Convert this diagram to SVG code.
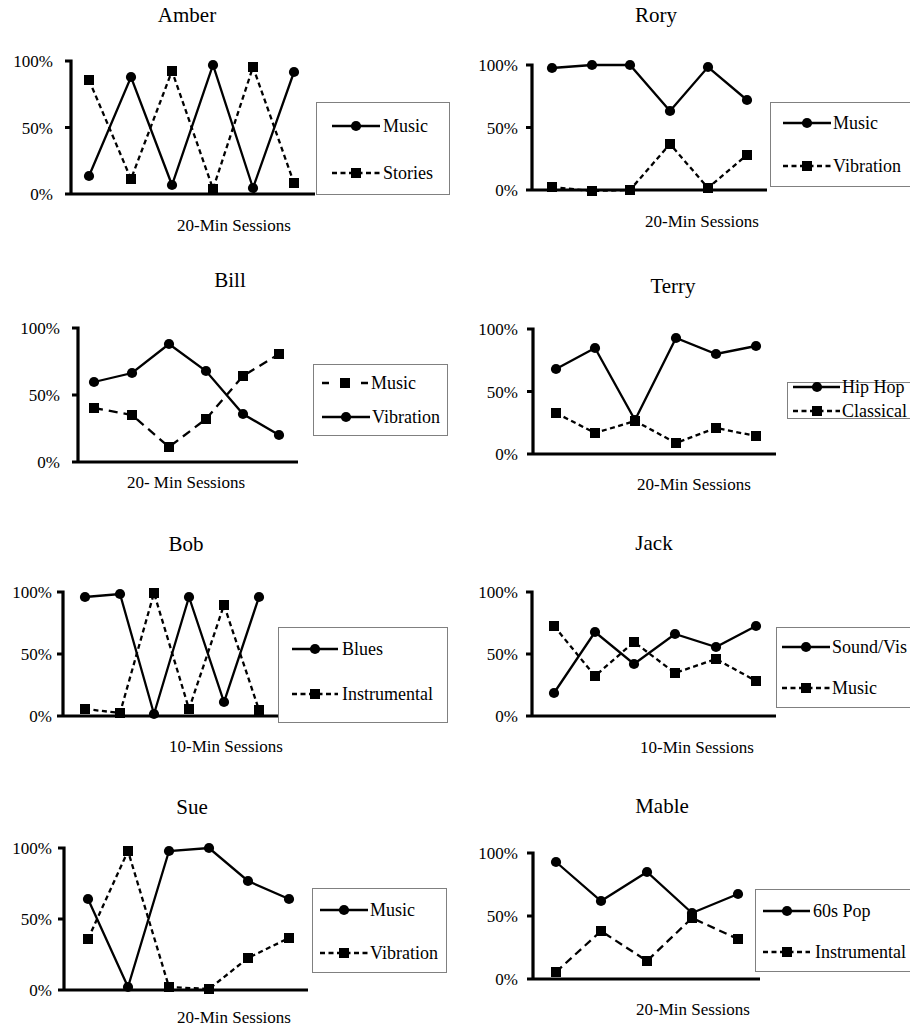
<svg xmlns="http://www.w3.org/2000/svg" width="910" height="1032" viewBox="0 0 910 1032">
<style>
text{font-family:"Liberation Serif","Times New Roman","DejaVu Serif",serif;fill:#000}
.t{font-size:21px;text-anchor:middle}
.y{font-size:17px;text-anchor:end}
.x{font-size:17px;text-anchor:middle}
.l{font-size:18px}
.ax{stroke:#000;stroke-width:3.2;fill:none}
.s{stroke:#000;stroke-width:2.3;fill:none}
.d{stroke-dasharray:5,3.5}
.dl{stroke-dasharray:9,6}
.dm{stroke-dasharray:8,5}
.bm{stroke-dasharray:7,32}
.c{marker-start:url(#c);marker-mid:url(#c);marker-end:url(#c)}
.q{marker-start:url(#q);marker-mid:url(#q);marker-end:url(#q)}
.lc{marker-mid:url(#c)}
.lq{marker-mid:url(#q)}
.lg{fill:#fff;stroke:#808080;stroke-width:1}
</style>
<defs>
<marker id="c" markerUnits="userSpaceOnUse" markerWidth="12" markerHeight="12" refX="6" refY="6" overflow="visible"><circle cx="6" cy="6" r="5.1" fill="#000"/></marker>
<marker id="q" markerUnits="userSpaceOnUse" markerWidth="12" markerHeight="12" refX="6" refY="6" overflow="visible"><rect x="1" y="1" width="10" height="10" fill="#000"/></marker>
</defs>
<rect width="910" height="1032" fill="#fff"/>

<g id="amber">
<text class="t" x="187" y="22">Amber</text>
<path class="ax" d="M65,61H71V194M65,127.5H71M65,194H315"/>
<text class="y" x="53" y="67">100%</text><text class="y" x="53" y="134">50%</text><text class="y" x="53" y="200">0%</text>
<text class="x" x="234" y="231">20-Min Sessions</text>
<g class="series">
<polyline class="s c" points="89,176 131,77 172,185 213,65 253,188 294,72"/>
<polyline class="s d q" points="89,80 131,179 172,71 213,189 253,67 294,183"/>
</g>
<g class="legend">
<rect class="lg" x="316.5" y="102.5" width="133" height="92"/>
<polyline class="s lc" points="332,126 356,126 380,126"/><text class="l" x="383" y="132">Music</text>
<polyline class="s d lq" points="332,173 356,173 380,173"/><text class="l" x="383" y="179">Stories</text>
</g>
</g>

<g id="rory">
<text class="t" x="656" y="22">Rory</text>
<path class="ax" d="M526,65H532V190M526,127.5H532M526,190H767"/>
<text class="y" x="518" y="71">100%</text><text class="y" x="518" y="134">50%</text><text class="y" x="518" y="196">0%</text>
<text class="x" x="702" y="227">20-Min Sessions</text>
<g class="series">
<polyline class="s c" points="552,68 592,65 630,65 670,111 708,67 747,100"/>
<polyline class="s d q" points="552,187 592,191 630,190 670,144 708,188 747,155"/>
</g>
<g class="legend">
<rect class="lg" x="770.5" y="102.5" width="145" height="84"/>
<polyline class="s lc" points="783,123 807,123 831,123"/><text class="l" x="833" y="129">Music</text>
<polyline class="s d lq" points="783,166 807,166 831,166"/><text class="l" x="833" y="172">Vibration</text>
</g>
</g>

<g id="bill">
<text class="t" x="230" y="287">Bill</text>
<path class="ax" d="M72,328H78V462M72,395H78M72,462H298"/>
<text class="y" x="60" y="334">100%</text><text class="y" x="60" y="401">50%</text><text class="y" x="60" y="468">0%</text>
<text class="x" x="186" y="488">20- Min Sessions</text>
<g class="series">
<polyline class="s dl q" points="94,408 132,415 169,447 206,419 243,376 279,354"/>
<polyline class="s c" points="94,382 132,373 169,344 206,371 243,414 279,435"/>
</g>
<g class="legend">
<rect class="lg" x="313.5" y="364.5" width="134" height="71"/>
<polyline class="s bm lq" points="322,383 345,383 368,383"/><text class="l" x="371" y="389">Music</text>
<polyline class="s lc" points="322,417 346,417 370,417"/><text class="l" x="372" y="423">Vibration</text>
</g>
</g>

<g id="terry">
<text class="t" x="673" y="293">Terry</text>
<path class="ax" d="M527,329H533V454M527,391.5H533M527,454H776"/>
<text class="y" x="518" y="335">100%</text><text class="y" x="518" y="398">50%</text><text class="y" x="518" y="460">0%</text>
<text class="x" x="694" y="490">20-Min Sessions</text>
<g class="series">
<polyline class="s c" points="556,369 595,348 635,420 676,338 716,354 756,346"/>
<polyline class="s d q" points="556,413 595,433 635,421 676,443 716,428 756,436"/>
</g>
<g class="legend">
<rect class="lg" x="787.5" y="382.5" width="128" height="36"/>
<polyline class="s lc" points="793,387 817,387 840,387"/><text class="l" x="842" y="393">Hip Hop</text>
<polyline class="s d lq" points="793,411 817,411 840,411"/><text class="l" x="842" y="416.5">Classical</text>
</g>
</g>

<g id="bob">
<text class="t" x="186" y="551">Bob</text>
<path class="ax" d="M57,592H63V716M57,654H63M57,716H310"/>
<text class="y" x="52" y="598">100%</text><text class="y" x="52" y="660">50%</text><text class="y" x="52" y="722">0%</text>
<text class="x" x="226" y="752">10-Min Sessions</text>
<g class="series">
<polyline class="s c" points="85,597 120,594 154,714 189,597 224,702 259,597"/>
<polyline class="s d q" points="85,709 120,713 154,593 189,709 224,605 259,710"/>
</g>
<g class="legend">
<rect class="lg" x="278.5" y="627.5" width="169" height="95"/>
<polyline class="s lc" points="292,649 315,649 338,649"/><text class="l" x="342" y="655">Blues</text>
<polyline class="s d lq" points="292,694 315,694 338,694"/><text class="l" x="342" y="700">Instrumental</text>
</g>
</g>

<g id="jack">
<text class="t" x="654" y="550">Jack</text>
<path class="ax" d="M526,592H532V716M526,654H532M526,716H776"/>
<text class="y" x="518" y="598">100%</text><text class="y" x="518" y="660">50%</text><text class="y" x="518" y="722">0%</text>
<text class="x" x="697" y="753">10-Min Sessions</text>
<g class="series">
<polyline class="s c" points="554,693 595,632 634,664 675,634 716,647 756,626"/>
<polyline class="s d q" points="554,626 595,676 634,642 675,673 716,659 756,681"/>
</g>
<g class="legend">
<rect class="lg" x="776.5" y="627.5" width="140" height="80"/>
<polyline class="s lc" points="782,647 806,647 830,647"/><text class="l" x="832" y="653">Sound/Vis</text>
<polyline class="s d lq" points="782,688 806,688 830,688"/><text class="l" x="832" y="694">Music</text>
</g>
</g>

<g id="sue">
<text class="t" x="192" y="814">Sue</text>
<path class="ax" d="M58,848H64V990M58,919H64M58,990H308"/>
<text class="y" x="52" y="854">100%</text><text class="y" x="52" y="925">50%</text><text class="y" x="52" y="996">0%</text>
<text class="x" x="234" y="1023">20-Min Sessions</text>
<g class="series">
<polyline class="s c" points="88,899 128,987 169,851 209,848 248,881 289,899"/>
<polyline class="s d q" points="88,939 128,851 169,987 209,989 248,958 289,938"/>
</g>
<g class="legend">
<rect class="lg" x="312.5" y="888.5" width="134" height="84"/>
<polyline class="s lc" points="320,910 344,910 368,910"/><text class="l" x="370" y="916">Music</text>
<polyline class="s d lq" points="320,953 344,953 368,953"/><text class="l" x="370" y="959">Vibration</text>
</g>
</g>

<g id="mable">
<text class="t" x="662" y="813">Mable</text>
<path class="ax" d="M527,853H533V979M527,916H533M527,979H760"/>
<text class="y" x="518" y="859">100%</text><text class="y" x="518" y="922">50%</text><text class="y" x="518" y="985">0%</text>
<text class="x" x="693" y="1015">20-Min Sessions</text>
<g class="series">
<polyline class="s c" points="556,862 601,901 647,872 692,913 738,894"/>
<polyline class="s dm q" points="556,972 601,931 647,961 692,918 738,939"/>
</g>
<g class="legend">
<rect class="lg" x="755.5" y="889.5" width="160" height="82"/>
<polyline class="s lc" points="763,911 787,911 810,911"/><text class="l" x="813" y="917">60s Pop</text>
<polyline class="s d lq" points="763,952 787,952 810,952"/><text class="l" x="815" y="958">Instrumental</text>
</g>
</g>
</svg>
